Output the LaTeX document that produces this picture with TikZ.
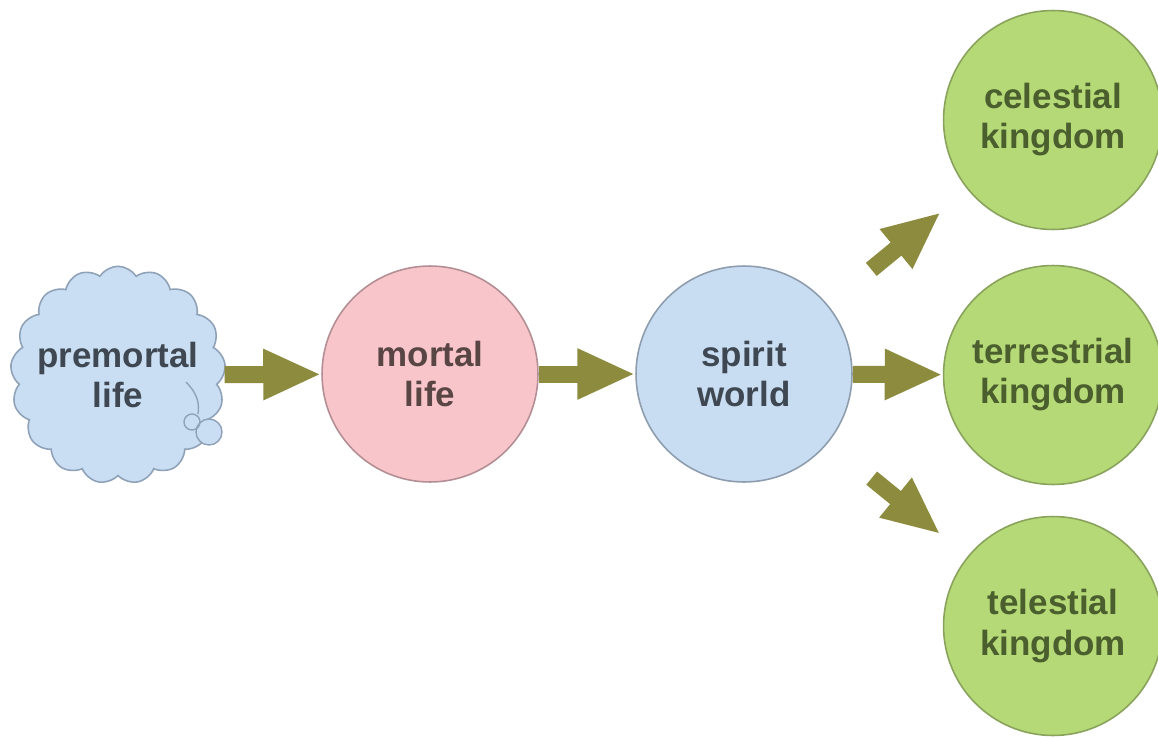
\documentclass[tikz,border=0pt]{standalone}
\usepackage{fontspec}
\setmainfont{Liberation Sans}
\usetikzlibrary{arrows.meta,shapes.symbols}

\definecolor{cloudfill}{HTML}{C9DEF2}
\definecolor{cloudline}{HTML}{8FA2B8}
\definecolor{pinkfill}{HTML}{F8C6CA}
\definecolor{pinkline}{HTML}{B38E94}
\definecolor{bluefill}{HTML}{C9DDF2}
\definecolor{blueline}{HTML}{8E9DAE}
\definecolor{greenfill}{HTML}{B5D976}
\definecolor{greenline}{HTML}{89A35C}
\definecolor{arrowcol}{HTML}{8C8B3E}
\definecolor{textgray}{HTML}{3F4852}
\definecolor{textbrown}{HTML}{5A4545}
\definecolor{textgreen}{HTML}{4A5E2E}

\tikzset{
  label font/.style={font=\bfseries\fontsize{19.9}{22.8}\selectfont, align=center},
  stage/.style={circle, minimum size=4.32cm, inner sep=0pt, line width=0.9pt, label font},
  kingdom/.style={stage, minimum size=4.38cm, fill=greenfill, draw=greenline, text=textgreen},
  flow/.style={draw=arrowcol, line width=0.34cm,
    -{Triangle[length=1.16cm, width=0.94cm, fill=arrowcol]}},
  branch/.style={flow, shorten <=1.12cm, shorten >=0.7cm},
}

\begin{document}
\begin{tikzpicture}[x=0.02cm, y=-0.02cm]
  \useasboundingbox (0,0) rectangle (1158,737);

  % premortal cloud with its small trailing puffs
  \node[cloud, cloud puffs=17, cloud puff arc=115, aspect=1,
        minimum width=4.3cm, minimum height=4.35cm, inner sep=-0.8cm,
        fill=cloudfill, draw=cloudline, line width=0.9pt,
        text=textgray, label font] (pre) at (118,375) {premortal\\life};
  \draw[cloudline, line width=0.8pt] (186,382) .. controls (196,392) and (200,402) .. (198,414);
  \node[circle, minimum size=0.52cm, inner sep=0pt, draw=cloudline, fill=cloudfill,
        line width=0.8pt] (puffb) at (209,432) {};
  \node[circle, minimum size=0.32cm, inner sep=0pt, draw=cloudline,
        line width=0.8pt] (puffa) at (192,422) {};

  % stages
  \node[stage, fill=pinkfill, draw=pinkline, text=textbrown] (mortal) at (430,374) {mortal\\life};
  \node[stage, fill=bluefill, draw=blueline, text=textgray] (spirit) at (744,374) {spirit\\world};

  % kingdoms
  \node[kingdom] (cel) at (1053,120) {celestial\\kingdom};
  \node[kingdom] (ter) at (1053,375) {terrestrial\\kingdom};
  \node[kingdom] (tel) at (1053,626) {telestial\\kingdom};

  % flow arrows
  \draw[flow] (pre) -- (mortal);
  \draw[flow] (mortal) -- (spirit);
  \draw[flow] (spirit) -- (ter);
  \draw[branch] (spirit) -- (cel);
  \draw[branch] (spirit) -- (tel);
\end{tikzpicture}
\end{document}
